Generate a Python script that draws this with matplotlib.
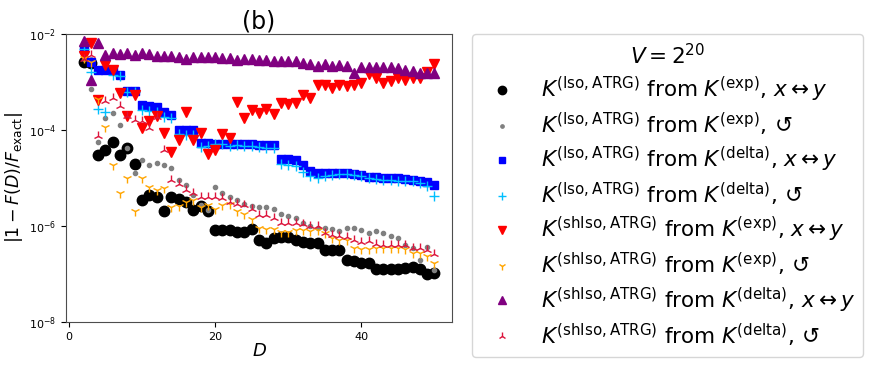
import numpy as np
import matplotlib
matplotlib.use("Agg")
import matplotlib.pyplot as plt

# bond dimension
D = np.arange(2, 51)

iso_exp_xy = [2.6e-3, 2.5e-3, 3.0e-5, 3.8e-5, 5.5e-5, 3.0e-5, 4.2e-5, 2.0e-5,
              3.5e-6, 4.4e-6, 4.0e-6, 2.1e-6, 4.1e-6, 3.6e-6, 3.2e-6, 2.15e-6, 2.6e-6, 2.1e-6,
              8.3e-7, 8.1e-7, 8.1e-7, 7.6e-7, 7.6e-7, 8.7e-7, 5.2e-7, 4.5e-7, 5.5e-7, 5.8e-7,
              5.8e-7, 5.2e-7, 4.7e-7, 4.5e-7, 4.4e-7, 3.2e-7, 3.2e-7, 3.1e-7, 1.96e-7, 1.85e-7,
              1.7e-7, 1.7e-7, 1.3e-7, 1.3e-7, 1.3e-7, 1.3e-7, 1.35e-7, 1.4e-7, 1.3e-7, 1.0e-7,
              1.03e-7]
iso_exp_rot = [3.0e-3, 7.0e-4, 5.5e-5, 1.8e-4, 2.3e-4, 1.26e-4, 4.2e-5, 1.26e-5,
               2.4e-5, 1.9e-5, 2.1e-5, 1.9e-5, 1.6e-5, 9.3e-6, 7.1e-6, 4.5e-6, 2.7e-6, 2.2e-6,
               6.4e-6, 4.8e-6, 4.1e-6, 3.4e-6, 2.9e-6, 2.6e-6, 2.5e-6, 2.5e-6, 2.3e-6, 1.8e-6,
               1.6e-6, 1.44e-6, 1.15e-6, 9.8e-7, 8.9e-7, 8.9e-7, 8.7e-7, 8.0e-7, 8.9e-7, 8.9e-7,
               8.3e-7, 7.1e-7, 8.0e-7, 7.1e-7, 6.2e-7, 5.7e-7, 4.0e-7, 3.4e-7, 1.96e-7, 3.6e-7,
               1.2e-7]
iso_delta_xy = [4.8e-3, 2.6e-3, 1.8e-3, 1.8e-3, 1.75e-3, 1.4e-3, 6.5e-4, 6.6e-4,
                3.3e-4, 3.2e-4, 2.95e-4, 2.4e-4, 2.05e-4, 1.0e-4, 9.8e-5, 9.8e-5, 5.3e-5, 5.3e-5,
                5.2e-5, 5.2e-5, 5.1e-5, 5.1e-5, 5.2e-5, 5.0e-5, 4.9e-5, 4.9e-5, 4.8e-5, 2.5e-5,
                2.45e-5, 2.4e-5, 1.9e-5, 1.4e-5, 1.3e-5, 1.3e-5, 1.3e-5, 1.3e-5, 1.28e-5, 1.22e-5,
                1.15e-5, 1.07e-5, 1.05e-5, 1.0e-5, 1.0e-5, 1.0e-5, 9.5e-6, 9.2e-6, 8.7e-6, 8.4e-6,
                7.1e-6]
iso_delta_rot = [4.8e-3, 1.64e-3, 2.7e-4, 2.4e-4, 1.4e-3, 1.35e-3, 6.1e-4, 6.2e-4,
                 2.6e-4, 2.5e-4, 2.4e-4, 1.85e-4, 1.8e-4, 8.2e-5, 8.0e-5, 8.0e-5, 4.5e-5, 4.6e-5,
                 5.0e-5, 5.1e-5, 4.6e-5, 4.8e-5, 4.6e-5, 4.6e-5, 4.4e-5, 4.3e-5, 4.3e-5, 1.96e-5,
                 1.9e-5, 1.78e-5, 1.35e-5, 1.1e-5, 1.02e-5, 1.1e-5, 1.15e-5, 1.2e-5, 1.2e-5, 1.15e-5,
                 1.1e-5, 9.9e-6, 9.5e-6, 9.2e-6, 8.9e-6, 8.6e-6, 8.6e-6, 8.6e-6, 8.0e-6, 6.8e-6,
                 4.2e-6]
shiso_exp_xy = [3.4e-3, 6.6e-3, 4.3e-4, 2.26e-3, 1.78e-3, 5.8e-4, 1.96e-4, 5.4e-4,
                1.08e-4, 1.56e-4, 1.96e-4, 8.5e-5, 3.5e-5, 6.1e-5, 2.4e-4, 6.1e-5, 8.7e-5, 3.2e-5,
                3.8e-5, 8.3e-5, 6.7e-5, 3.9e-4, 1.8e-4, 2.6e-4, 2.3e-4, 2.7e-4, 2.2e-4, 3.7e-4,
                3.5e-4, 3.7e-4, 5.4e-4, 4.6e-4, 8.7e-4, 8.7e-4, 7.4e-4, 8.7e-4, 8.3e-4, 8.7e-4,
                9.7e-4, 1.47e-3, 1.2e-3, 9.7e-4, 1.07e-3, 1.2e-3, 1.1e-3, 1.2e-3, 1.2e-3, 1.64e-3,
                2.37e-3]
shiso_exp_rot = [3.2e-3, 2.6e-3, 4.4e-4, 1.17e-4, 1.9e-5, 4.9e-6, 1.0e-5, 2.1e-6,
                 1.0e-5, 6.4e-6, 5.5e-6, 6.1e-6, 2.5e-6, 2.6e-6, 3.2e-6, 3.4e-6, 2.5e-6, 2.8e-6,
                 2.3e-6, 2.8e-6, 2.9e-6, 2.1e-6, 1.8e-6, 1.4e-6, 9.3e-7, 8.6e-7, 8.6e-7, 7.6e-7,
                 7.6e-7, 8.3e-7, 8.3e-7, 8.0e-7, 8.3e-7, 7.1e-7, 5.5e-7, 5.1e-7, 5.1e-7, 3.4e-7,
                 3.3e-7, 3.3e-7, 3.4e-7, 3.4e-7, 3.4e-7, 3.4e-7, 3.3e-7, 2.8e-7, 2.8e-7, 2.4e-7,
                 1.7e-7]
shiso_delta_xy = [7.2e-3, 1.1e-3, 6.4e-3, 3.65e-3, 3.95e-3, 3.77e-3, 4.08e-3, 3.65e-3,
                  3.95e-3, 3.77e-3, 3.48e-3, 3.48e-3, 3.48e-3, 3.37e-3, 3.0e-3, 3.27e-3, 3.37e-3, 3.27e-3,
                  3.27e-3, 3.11e-3, 3.11e-3, 2.87e-3, 2.96e-3, 2.96e-3, 2.87e-3, 2.87e-3, 2.78e-3, 2.78e-3,
                  2.78e-3, 2.78e-3, 2.53e-3, 2.37e-3, 2.16e-3, 2.37e-3, 2.16e-3, 2.26e-3, 2.16e-3, 1.56e-3,
                  2.09e-3, 2.09e-3, 2.09e-3, 2.09e-3, 2.09e-3, 1.93e-3, 1.78e-3, 1.72e-3, 1.56e-3, 1.56e-3,
                  1.51e-3]
shiso_delta_rot = [3.0e-3, 3.6e-3, 7.6e-5, 4.0e-4, 4.6e-4, 3.2e-4, 2.0e-4, 1.6e-4,
                   1.55e-4, 1.1e-4, 1.9e-4, 3.8e-5, 9.3e-6, 7.5e-6, 5.5e-6, 4.9e-6, 4.1e-6, 4.1e-6,
                   4.1e-6, 3.8e-6, 3.2e-6, 2.9e-6, 2.8e-6, 2.3e-6, 1.7e-6, 1.7e-6, 1.5e-6, 1.15e-6,
                   1.15e-6, 1.18e-6, 1.12e-6, 1.0e-6, 9.8e-7, 7.3e-7, 6.5e-7, 6.2e-7, 5.8e-7, 5.1e-7,
                   4.7e-7, 4.9e-7, 4.2e-7, 4.1e-7, 4.1e-7, 4.1e-7, 4.1e-7, 3.4e-7, 3.5e-7, 3.2e-7,
                   2.6e-7]

K_iso = r"$K^{(\mathrm{Iso,ATRG})}$"
K_sh = r"$K^{(\mathrm{shIso,ATRG})}$"
xy = r"$x\leftrightarrow y$"
rot = r"$\,\circlearrowleft$"

series = [
    (iso_exp_xy, "o", "black", 7.5, K_iso + r" from $K^{(\mathrm{exp})}$, " + xy),
    (iso_exp_rot, ".", "grey", 6, K_iso + r" from $K^{(\mathrm{exp})}$," + rot),
    (iso_delta_xy, "s", "blue", 5.5, K_iso + r" from $K^{(\mathrm{delta})}$, " + xy),
    (iso_delta_rot, "+", "deepskyblue", 7, K_iso + r" from $K^{(\mathrm{delta})}$," + rot),
    (shiso_exp_xy, "v", "red", 6.5, K_sh + r" from $K^{(\mathrm{exp})}$, " + xy),
    (shiso_exp_rot, "1", "orange", 7, K_sh + r" from $K^{(\mathrm{exp})}$," + rot),
    (shiso_delta_xy, "^", "purple", 6.5, K_sh + r" from $K^{(\mathrm{delta})}$, " + xy),
    (shiso_delta_rot, "2", "crimson", 7, K_sh + r" from $K^{(\mathrm{delta})}$," + rot),
]

fig = plt.figure(figsize=(8.72, 3.71), dpi=100)
ax = fig.add_axes([0.0757, 0.1321, 0.4427, 0.7763])

for vals, mk, col, ms, lab in series:
    ax.plot(D, vals, linestyle="none", marker=mk, color=col, markersize=ms, label=lab)

ax.set_yscale("log")
ax.set_ylim(1e-8, 1e-2)
ax.set_yticks([1e-8, 1e-6, 1e-4, 1e-2])
ax.minorticks_off()
ax.set_xticks([0, 20, 40])
ax.tick_params(labelsize=8)
for s in ax.spines.values():
    s.set_color("0.3")

ax.set_xlabel(r"$D$", fontsize=13, labelpad=0)
ax.set_ylabel(r"$|1-F(D)/F_{\mathrm{exact}}|$", fontsize=12.5, labelpad=3)
ax.set_title("(b)", fontsize=17, pad=4)

fig.legend(loc="upper left", bbox_to_anchor=(0.541, 0.908), fontsize=15.5,
           title=r"$V=2^{20}$", title_fontsize=15.5, markerscale=0.8,
           labelspacing=0.32, borderpad=0.4, borderaxespad=0)

fig.savefig("out.png", dpi=100)
